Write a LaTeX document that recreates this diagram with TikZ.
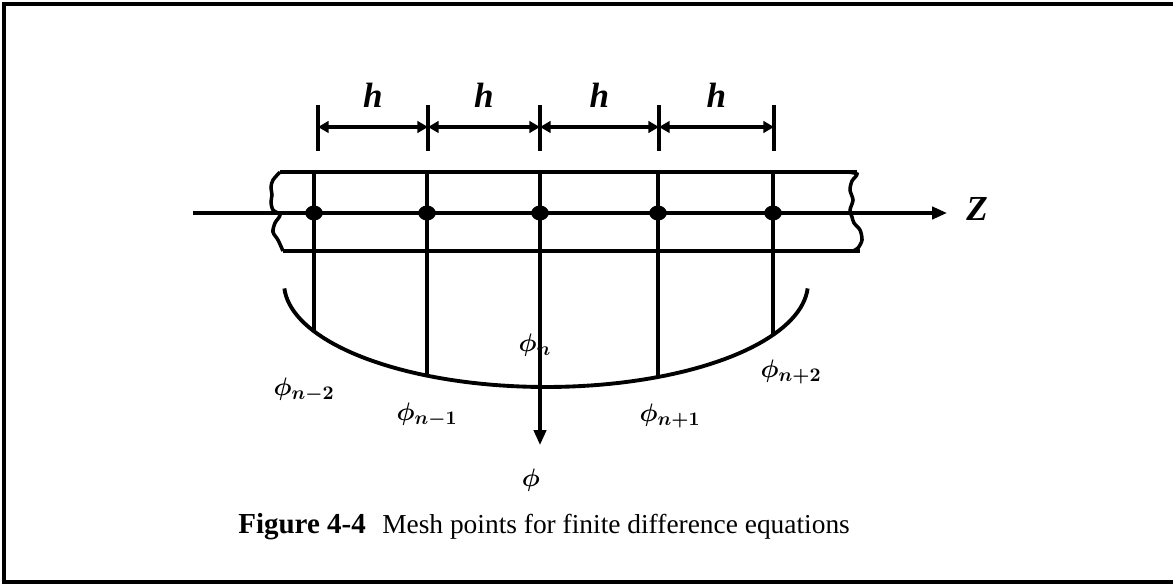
\documentclass[tikz,border=0pt]{standalone}
\usepackage{bm}
\usepackage{fontspec}
\setmainfont{Liberation Serif}
\usetikzlibrary{arrows.meta,shapes.geometric}

\newcommand{\phisub}[1]{$\bm{\phi_{#1}}$}

\begin{document}
\begin{tikzpicture}[
    x=0.02cm, y=-0.02cm,
    >={Triangle[length=8.5pt,width=7pt]},
    frame/.style={line width=1.8pt},
    band/.style={line width=2pt},
    meshline/.style={line width=1.9pt},
    axis/.style={line width=1.9pt},
    dimline/.style={line width=1.8pt, {Triangle[length=6pt,width=6.5pt]}-{Triangle[length=6pt,width=6.5pt]}},
    meshdot/.style={ellipse, fill=black, inner sep=0pt, minimum width=10pt, minimum height=8.5pt},
    biglabel/.style={font=\fontsize{20}{20}\selectfont\bfseries\itshape, inner sep=0pt},
    philabel/.style={font=\fontsize{15.5}{15.5}\selectfont, inner sep=0pt}
]
\useasboundingbox (0,0) rectangle (1173,584);

% ---- page frame ----
\draw[frame] (1173,4) -- (4,4) -- (4,582) -- (1173,582);

% ---- spacing marks h ----
\foreach \x [count=\i] in {318, 428, 540, 659, 774} {
  \coordinate (t\i) at (\x,127);
  \draw[meshline] (\x,105) -- (\x,151);
}
\foreach \i/\j in {1/2, 2/3, 3/4, 4/5} {
  \draw[dimline] (t\i) -- (t\j);
  \path (t\i) -- (t\j) node[biglabel, midway, anchor=base, yshift=11pt] (h\i) {h};
}

% ---- bar with broken ends ----
\draw[band] (280,172) -- (857,172);
\draw[band] (283,251) -- (860,251);
\draw[band] plot[smooth] coordinates {(280,172) (273,180) (271,187) (272,195)
  (271,202) (273,210) (280,215) (275,223) (273,232) (278,240) (283,251)};
\draw[band] plot[smooth] coordinates {(847,172) (857,174) (852,181) (850,190)
  (853,200) (850,210) (852,217) (854,223) (860,230) (862,240) (858,248) (853,251)};

% ---- Z axis ----
\coordinate (zin) at (193,213);
\coordinate (zout) at (947,213);
\draw[axis,->] (zin) -- (zout);
\node[biglabel, anchor=base west] (zlab) at (966,221) {Z};

% ---- profile curve ----
\draw[band, line width=2.2pt] plot[domain=183:357, samples=80]
  ({546+262*cos(\x)}, {283-104*sin(\x)});

% ---- mesh lines and points ----
\foreach \x [count=\i] in {314, 427, 658, 773} {
  \pgfmathsetmacro\ye{283+104*sqrt(1-((\x-546)/262)^2)}
  \coordinate (top\i) at (\x,172);
  \coordinate (bot\i) at (\x,\ye);
  \draw[meshline] (top\i) -- (bot\i);
  \node[meshdot] (p\i) at (\x,213) {};
}
\coordinate (ctop) at (540,172);
\coordinate (cbot) at (540,445);
\draw[axis,->] (ctop) -- (cbot);
\node[meshdot] (pc) at (540,213) {};
\node[philabel] (phiax) at (531,480) {$\bm{\phi}$};

% ---- values ----
\node[philabel] (phim2) at (304,390) {\phisub{n-2}};
\node[philabel] (phim1) at (427,415) {\phisub{n-1}};
\node[philabel] (phin) at (535,345) {\phisub{n}};
\node[philabel] (phip1) at (670,416) {\phisub{n+1}};
\node[philabel] (phip2) at (791,372) {\phisub{n+2}};

% ---- caption ----
\node[anchor=base west, inner sep=0pt, font=\fontsize{15.6}{15.6}\selectfont] (cap) at (238,533)
  {{\fontsize{16.5}{16.5}\selectfont\bfseries Figure 4-4}\hspace{0.6em}Mesh points for finite difference equations};

\end{tikzpicture}
\end{document}
